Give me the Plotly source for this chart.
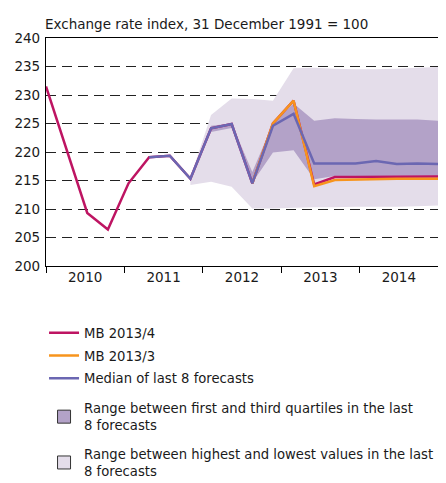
import plotly.graph_objects as go

quarters = [f"{y}Q{q}" for y in range(2010, 2015) for q in range(1, 5)]
years = ["2010", "2011", "2012", "2013", "2014"]

mb_2013_4 = [231.5, 220.4, 209.3, 206.4, 214.5, 219.1, 219.35, 215.3, 224.15, 224.9,
             214.5, 225.0, 229.0, 214.3, 215.6, 215.6, 215.6, 215.6, 215.65, 215.7]
mb_2013_3 = [None] * 10 + [214.5, 225.0, 229.0, 214.0, 215.1, 215.2, 215.3, 215.3, 215.3, 215.3]
median8 = [None] * 5 + [219.1, 219.35, 215.3, 224.15, 224.9, 214.5, 224.6, 226.7, 218.0,
                        218.0, 218.0, 218.4, 217.9, 218.0, 217.9]
q1 = [None] * 7 + [215.2, 223.5, 224.2, 214.6, 219.9, 220.3, 215.2, 215.8, 215.8, 215.8, 215.8, 215.8, 215.8]
q3 = [None] * 7 + [215.5, 224.6, 225.0, 216.5, 225.0, 228.5, 225.5, 225.9, 225.8, 225.7, 225.7, 225.7, 225.5]
lo = [None] * 7 + [214.2, 214.8, 213.9, 210.1, 210.1, 210.2, 210.3, 210.3, 210.4, 210.4, 210.4, 210.5, 210.6]
hi = [None] * 7 + [215.5, 226.5, 229.4, 229.3, 229.0, 234.7, 234.8, 234.6, 234.5, 234.5, 234.6, 234.8, 234.9]

x = list(range(len(quarters)))
n_years = len(years)
span = len(quarters) - 1
year_w = span / n_years
year_centers = [year_w * (i + 0.5) for i in range(n_years)]

C_MAG = "#BE1462"
C_ORA = "#F7941D"
C_MED = "#6B67B2"
C_DARK = "#B3A2C8"
C_LIGHT = "#E4DDEA"
FONT = "DejaVu Sans"

def band(lower, upper):
    idx = [i for i in x if lower[i] is not None]
    bx = idx + idx[::-1]
    by = [upper[i] for i in idx] + [lower[i] for i in idx[::-1]]
    return bx, by

fig = go.Figure()
bx, by = band(lo, hi)
fig.add_trace(go.Scatter(x=bx, y=by, fill="toself", fillcolor=C_LIGHT, mode="none",
                         showlegend=False, hoverinfo="skip"))
bx, by = band(q1, q3)
fig.add_trace(go.Scatter(x=bx, y=by, fill="toself", fillcolor=C_DARK, mode="none",
                         showlegend=False, hoverinfo="skip"))
fig.add_trace(go.Scatter(x=x, y=mb_2013_4, mode="lines", line=dict(color=C_MAG, width=2.5),
                         name="MB 2013/4", legendrank=1, legendgroup="a"))
fig.add_trace(go.Scatter(x=x, y=mb_2013_3, mode="lines", line=dict(color=C_ORA, width=2.5),
                         name="MB 2013/3", legendrank=2, legendgroup="b"))
fig.add_trace(go.Scatter(x=x, y=median8, mode="lines", line=dict(color=C_MED, width=2.5),
                         name="Median of last 8 forecasts", legendrank=3, legendgroup="c"))
fig.add_trace(go.Scatter(x=[None], y=[None], mode="markers",
                         marker=dict(symbol="square", size=13, color=C_DARK,
                                     line=dict(color="#333333", width=1)),
                         name="Range between first and third quartiles in the last<br>8 forecasts",
                         legend="legend2", legendrank=4, legendgroup="d"))
fig.add_trace(go.Scatter(x=[None], y=[None], mode="markers",
                         marker=dict(symbol="square", size=13, color=C_LIGHT,
                                     line=dict(color="#333333", width=1)),
                         name="Range between highest and lowest values in the last<br>8 forecasts",
                         legend="legend2", legendrank=5, legendgroup="e"))

fig.update_layout(
    width=438, height=475,
    margin=dict(l=38, r=8, t=30, b=217, autoexpand=False),
    paper_bgcolor="white", plot_bgcolor="white",
    font=dict(family=FONT, size=13.5, color="#1a1a1a"),
    showlegend=True,
    legend=dict(x=-0.005, xanchor="left", y=-0.227, yanchor="top", traceorder="grouped",
                font=dict(size=13.2), bgcolor="rgba(0,0,0,0)", tracegroupgap=2.5),
    legend2=dict(x=-0.005, xanchor="left", y=-0.557, yanchor="top", traceorder="grouped",
                 font=dict(size=13.2), bgcolor="rgba(0,0,0,0)", tracegroupgap=8.5),
    xaxis=dict(range=[0, span], tickmode="array", tickvals=year_centers, ticktext=years,
               ticks="", showgrid=False, showline=True, linecolor="black", linewidth=1.2,
               mirror=True, zeroline=False, ticklabelstandoff=-1,
               minor=dict(tickmode="array", tickvals=[year_w * i for i in range(n_years + 1)],
                          ticks="outside", ticklen=6, tickcolor="black", tickwidth=1.2,
                          showgrid=False)),
    yaxis=dict(range=[200, 240], tickmode="linear", tick0=200, dtick=5, ticks="",
               showgrid=True, gridcolor="#222222", griddash="10px,6px", gridwidth=1.2,
               showline=True, linecolor="black", linewidth=1.2, mirror=True,
               zeroline=False, ticklabelstandoff=2),
    annotations=[dict(text="Exchange rate index, 31 December 1991 = 100", x=0, y=1,
                      xref="paper", yref="paper", xanchor="left", yanchor="bottom",
                      xshift=-3, yshift=4, showarrow=False, font=dict(size=13.5))],
)

fig.write_html("out.html")
